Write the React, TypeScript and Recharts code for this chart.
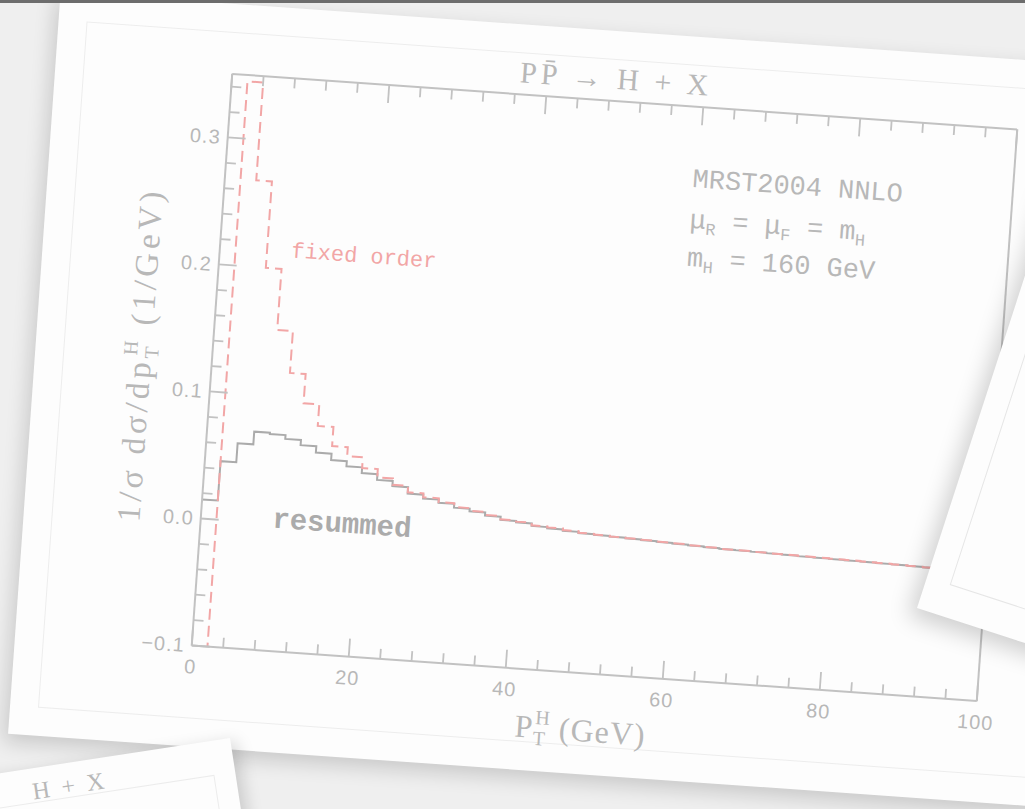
import React from 'react';
import { ComposedChart, Line, XAxis, YAxis, ReferenceDot, Label } from 'recharts';

// bin edges in GeV (2 GeV bins), last entry closes the final bin
const ptEdges = [
  0, 2, 4, 6, 8, 10, 12, 14, 16, 18, 20, 22, 24, 26, 28, 30, 32, 34, 36, 38, 40, 42, 44, 46, 48, 50,
  52, 54, 56, 58, 60, 62, 64, 66, 68, 70, 72, 74, 76, 78, 80, 82, 84, 86, 88, 90, 92, 94, 96, 98, 100,
];

// fixed order (dashed red) - first bin runs off the bottom of the frame
const fixedOrder = [
  -0.2, 0.345, 0.268, 0.2, 0.152, 0.119, 0.096, 0.079, 0.064, 0.057,
  0.0485, 0.042, 0.037, 0.032, 0.029, 0.026, 0.023, 0.021, 0.0185, 0.016,
  0.015, 0.013, 0.0122, 0.011, 0.0098, 0.0092, 0.0086, 0.0082, 0.0078, 0.0072,
  0.0068, 0.0061, 0.0056, 0.0051, 0.0049, 0.0046, 0.0043, 0.0041, 0.0039, 0.0037,
  0.0035, 0.0033, 0.003, 0.0028, 0.0025, 0.0022, 0.0019, 0.0017, 0.0016, 0.0015, 0.0015,
];

// resummed (solid grey)
const resummed = [
  0.015, 0.046, 0.061, 0.071, 0.07, 0.067, 0.063, 0.058, 0.053, 0.049,
  0.0445, 0.04, 0.036, 0.031, 0.028, 0.0255, 0.0225, 0.0205, 0.018, 0.0155,
  0.0145, 0.0125, 0.0115, 0.0105, 0.0095, 0.009, 0.0085, 0.008, 0.0075, 0.007,
  0.0065, 0.006, 0.0055, 0.005, 0.0048, 0.0045, 0.0042, 0.004, 0.0036, 0.0034,
  0.0032, 0.003, 0.0028, 0.0026, 0.0024, 0.0021, 0.0018, 0.0016, 0.0015, 0.0014, 0.0014,
];

const xTicks = [0, 4, 8, 12, 16, 20, 24, 28, 32, 36, 40, 44, 48, 52, 56, 60, 64, 68, 72, 76, 80, 84, 88, 92, 96, 100];
const yTicks = [
  -0.1, -0.08, -0.06, -0.04, -0.02, 0, 0.02, 0.04, 0.06, 0.08, 0.1, 0.12, 0.14, 0.16, 0.18,
  0.2, 0.22, 0.24, 0.26, 0.28, 0.3, 0.32, 0.34,
];

const AXIS = '#c2c2c2';
const TEXT = '#b8b8b8';
const RED = '#f2a6a6';
const GREY = '#ababab';
const SERIF = '"Liberation Serif", "DejaVu Serif", serif';
const MONO = '"Liberation Mono", "DejaVu Sans Mono", monospace';
const SANS = '"Liberation Sans", Arial, sans-serif';

const data = ptEdges.map((pt, i) => ({ pt, fixed: fixedOrder[i], resummed: resummed[i] }));

// chart geometry (un-rotated)
const W = 917;
const H = 723;
const M = { top: 60, right: 20, bottom: 10, left: 10 };
const Y_AXIS_W = 100;
const X_AXIS_H = 80;
const plotCx = M.left + Y_AXIS_W + (W - M.left - M.right - Y_AXIS_W) / 2;
const plotCy = M.top + (H - M.top - M.bottom - X_AXIS_H) / 2;

const isMajorX = (v: number) => v % 20 === 0;
const isMajorY = (v: number) => Math.round(v * 100) % 10 === 0;
const fmtY = (v: number) => v.toFixed(1).replace('-', '\u2212');

const BottomTick = (props: any) => {
  const { x, y, payload } = props;
  const major = isMajorX(payload.value);
  return (
    <g>
      <line x1={x} y1={y} x2={x} y2={y - (major ? 18 : 10)} stroke={AXIS} strokeWidth={1.8} />
      {major && (
        <text x={x} y={y + 28} textAnchor="middle" fill={TEXT} fontSize={20} fontFamily={SANS} letterSpacing={1}>
          {payload.value}
        </text>
      )}
    </g>
  );
};

const TopTick = (props: any) => {
  const { x, y, payload } = props;
  const major = isMajorX(payload.value);
  return <line x1={x} y1={y} x2={x} y2={y + (major ? 18 : 10)} stroke={AXIS} strokeWidth={1.8} />;
};

const LeftTick = (props: any) => {
  const { x, y, payload } = props;
  const major = isMajorY(payload.value);
  return (
    <g>
      <line x1={x} y1={y} x2={x + (major ? 18 : 10)} y2={y} stroke={AXIS} strokeWidth={1.8} />
      {major && (
        <text x={x - 7} y={y + 7} textAnchor="end" fill={TEXT} fontSize={20} fontFamily={SANS} letterSpacing={1}>
          {fmtY(payload.value)}
        </text>
      )}
    </g>
  );
};

const RightTick = (props: any) => {
  const { x, y, payload } = props;
  const major = isMajorY(payload.value);
  return <line x1={x} y1={y} x2={x - (major ? 18 : 10)} y2={y} stroke={AXIS} strokeWidth={1.8} />;
};

const XTitle = (props: any) => {
  const { x, y, width } = props.viewBox;
  return (
    <text x={x + width / 2} y={y + 68} textAnchor="middle" fill={TEXT} fontSize={32} fontFamily={SERIF} letterSpacing={1}>
      P
      <tspan fontSize={20} dy={7}>T</tspan>
      <tspan fontSize={20} dx={-12} dy={-21}>H</tspan>
      <tspan dy={14}> (GeV)</tspan>
    </text>
  );
};

const YTitle = (props: any) => {
  const { x, y, width, height } = props.viewBox;
  const cx = x + width - 72;
  const cy = y + height / 2;
  return (
    <text
      x={cx}
      y={cy + 11}
      transform={`rotate(-90, ${cx}, ${cy})`}
      textAnchor="middle"
      fill={TEXT}
      fontSize={33}
      fontFamily={SERIF}
      letterSpacing={4}
    >
      1/σ dσ/dp
      <tspan fontSize={20} dy={7}>T</tspan>
      <tspan fontSize={20} dx={-14} dy={-21}>H</tspan>
      <tspan dy={14}> (1/GeV)</tspan>
    </text>
  );
};

const textAt = (render: (x: number, y: number) => React.ReactNode) => (props: any) => {
  const { x, y } = props.viewBox;
  return render(x, y);
};

const fixedOrderLabel = textAt((x, y) => (
  <text x={x} y={y + 7} fill={RED} fontSize={22} fontFamily={MONO}>fixed order</text>
));

const resummedLabel = textAt((x, y) => (
  <text x={x} y={y + 9} fill={GREY} fontSize={29} fontFamily={MONO} fontWeight="bold">resummed</text>
));

const pdfLabel = textAt((x, y) => (
  <text x={x} y={y + 9} fill={TEXT} fontSize={27} fontFamily={MONO}>MRST2004 NNLO</text>
));

const scaleLabel = textAt((x, y) => (
  <text x={x} y={y + 9} fill={TEXT} fontSize={27} fontFamily={MONO}>
    μ<tspan fontSize={17} dy={6}>R</tspan>
    <tspan dy={-6}> = μ</tspan>
    <tspan fontSize={17} dy={6}>F</tspan>
    <tspan dy={-6}> =  m</tspan>
    <tspan fontSize={17} dy={6}>H</tspan>
  </text>
));

const massLabel = textAt((x, y) => (
  <text x={x} y={y + 9} fill={TEXT} fontSize={27} fontFamily={MONO}>
    m<tspan fontSize={17} dy={6}>H</tspan>
    <tspan dy={-6}> = 160 GeV</tspan>
  </text>
));

const HiggsPtChart: React.FC = () => (
  <ComposedChart width={W} height={H} data={data} margin={M}>
    <XAxis
      dataKey="pt"
      type="number"
      domain={[0, 100]}
      ticks={xTicks}
      interval={0}
      height={X_AXIS_H}
      tickSize={0}
      tickMargin={0}
      tickLine={false}
      tick={BottomTick}
      axisLine={{ stroke: AXIS, strokeWidth: 2 }}
      allowDataOverflow
    >
      <Label content={XTitle} />
    </XAxis>
    <XAxis
      xAxisId="top"
      orientation="top"
      mirror
      dataKey="pt"
      type="number"
      domain={[0, 100]}
      ticks={xTicks}
      interval={0}
      tickSize={0}
      tickMargin={0}
      tickLine={false}
      tick={TopTick}
      axisLine={{ stroke: AXIS, strokeWidth: 2 }}
    />
    <YAxis
      type="number"
      domain={[-0.1, 0.35]}
      ticks={yTicks}
      interval={0}
      width={Y_AXIS_W}
      tickSize={0}
      tickMargin={0}
      tickLine={false}
      tick={LeftTick}
      axisLine={{ stroke: AXIS, strokeWidth: 2 }}
      allowDataOverflow
    >
      <Label content={YTitle} />
    </YAxis>
    <YAxis
      yAxisId="right"
      orientation="right"
      mirror
      type="number"
      domain={[-0.1, 0.35]}
      ticks={yTicks}
      interval={0}
      tickSize={0}
      tickMargin={0}
      tickLine={false}
      tick={RightTick}
      axisLine={{ stroke: AXIS, strokeWidth: 2 }}
    />
    <Line
      dataKey="resummed"
      type="stepAfter"
      stroke={GREY}
      strokeWidth={2}
      dot={false}
      isAnimationActive={false}
    />
    <Line
      dataKey="fixed"
      type="stepAfter"
      stroke={RED}
      strokeWidth={2}
      strokeDasharray="11 6"
      dot={false}
      isAnimationActive={false}
    />
    <ReferenceDot x={9.1} y={0.215} r={0} stroke="none" label={fixedOrderLabel} />
    <ReferenceDot x={9.1} y={0.004} r={0} stroke="none" label={resummedLabel} />
    <ReferenceDot x={59.3} y={0.294} r={0} stroke="none" label={pdfLabel} />
    <ReferenceDot x={59.3} y={0.262} r={0} stroke="none" label={scaleLabel} />
    <ReferenceDot x={59.3} y={0.232} r={0} stroke="none" label={massLabel} />
  </ComposedChart>
);

export default function App() {
  return (
    <div
      style={{
        position: 'fixed',
        left: 0,
        top: 0,
        width: 1025,
        height: 809,
        overflow: 'hidden',
        background: '#efefef',
      }}
    >
      {/* main sheet, tilted like the photo */}
      <div
        style={{
          position: 'absolute',
          left: 604.7 - plotCx,
          top: 387 - plotCy,
          width: W,
          height: H,
          transform: 'rotate(4.05deg)',
          transformOrigin: `${plotCx}px ${plotCy}px`,
        }}
      >
        <div
          style={{
            position: 'absolute',
            left: plotCx - 571,
            top: plotCy - 357,
            width: 1151,
            height: 744,
            background: '#fdfdfd',
            boxShadow: '-4px 8px 20px rgba(0,0,0,0.16)',
          }}
        >
          <div
            style={{
              position: 'absolute',
              left: 28,
              top: 28,
              right: 28,
              bottom: 28,
              border: '1px solid #ededed',
            }}
          />
        </div>
        <div
          style={{
            position: 'absolute',
            left: plotCx - 210,
            top: 22,
            width: 400,
            textAlign: 'center',
            fontFamily: SERIF,
            fontSize: 30,
            lineHeight: '32px',
            color: TEXT,
            letterSpacing: 4,
          }}
        >
          PP̄ → H + X
        </div>
        <div style={{ position: 'absolute', left: 0, top: 0 }}>
          <HiggsPtChart />
        </div>
      </div>

      {/* sheet peeking in at bottom left */}
      <div
        style={{
          position: 'absolute',
          left: 230 - 600,
          top: 738,
          width: 600,
          height: 300,
          background: '#fdfdfd',
          transform: 'rotate(-8.7deg)',
          transformOrigin: '100% 0',
          boxShadow: '6px 4px 16px rgba(0,0,0,0.15)',
        }}
      >
        <div
          style={{
            position: 'absolute',
            left: 20,
            top: 34,
            right: 21,
            bottom: 20,
            border: '1px solid #ececec',
          }}
        />
        <div
          style={{
            position: 'absolute',
            right: 128,
            top: 10,
            fontFamily: SERIF,
            fontSize: 24,
            lineHeight: '26px',
            color: TEXT,
            letterSpacing: 3,
            whiteSpace: 'nowrap',
          }}
        >
          H + X
        </div>
      </div>

      {/* sheet on the right */}
      <div
        style={{
          position: 'absolute',
          left: 917,
          top: 608 - 520,
          width: 420,
          height: 520,
          background: '#fdfdfd',
          transform: 'rotate(18deg)',
          transformOrigin: '0 100%',
          boxShadow: '-6px 10px 22px rgba(0,0,0,0.18)',
        }}
      >
        <div
          style={{
            position: 'absolute',
            left: 24,
            top: 30,
            right: 24,
            bottom: 32,
            border: '1px solid #e6e6e6',
          }}
        />
      </div>

      <div style={{ position: 'absolute', left: 0, top: 0, width: 1025, height: 3, background: '#6d6d6d' }} />
    </div>
  );
}
